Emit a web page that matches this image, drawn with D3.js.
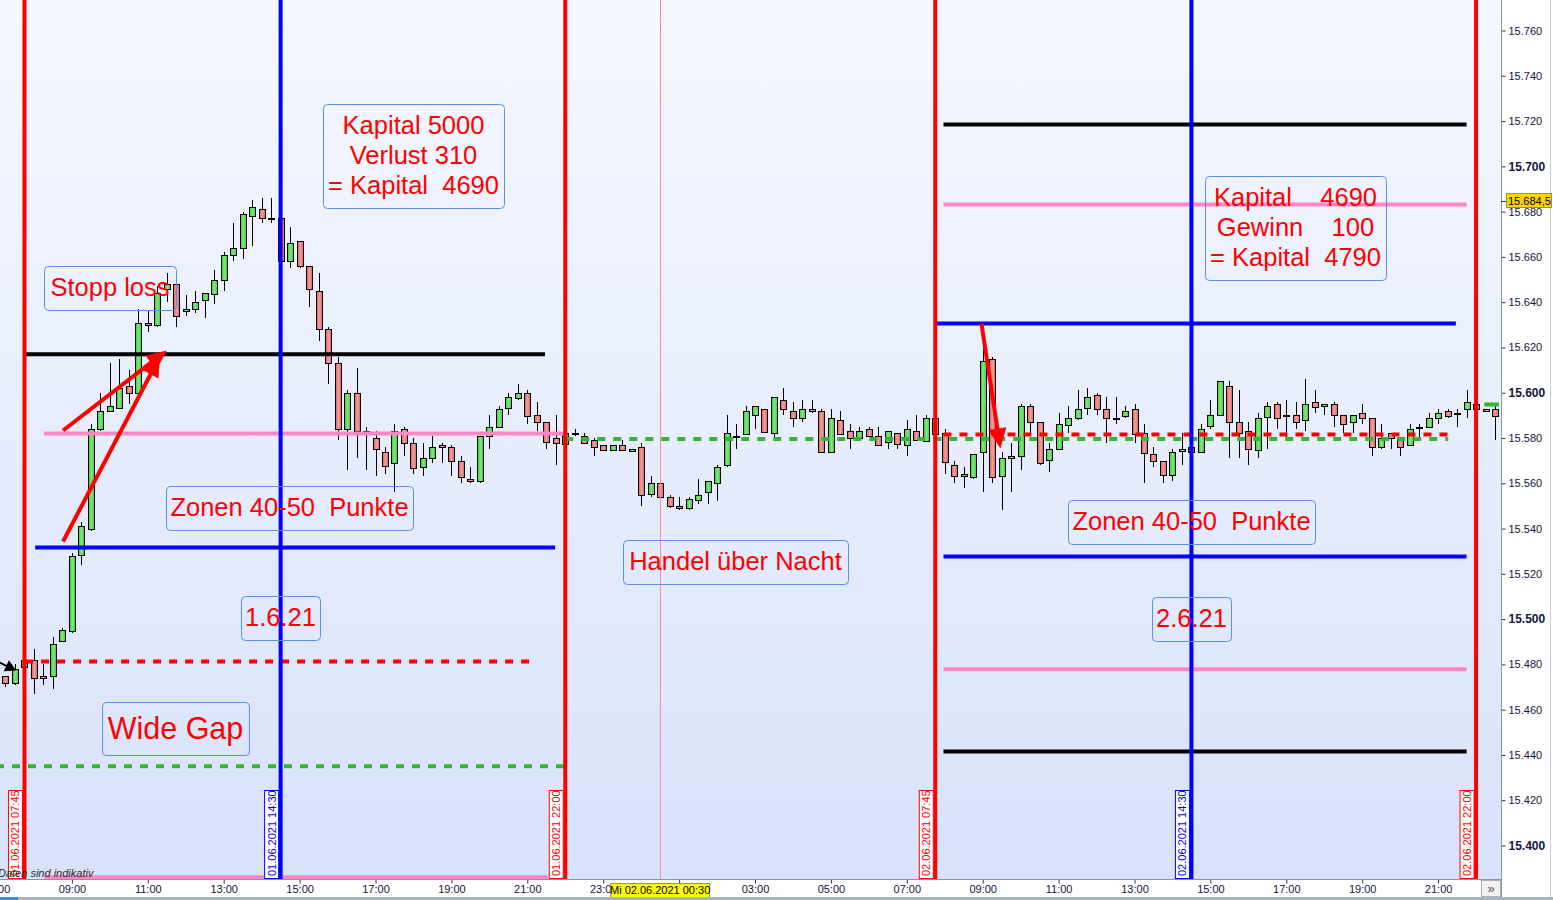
<!DOCTYPE html>
<html>
<head>
<meta charset="UTF-8">
<title>DAX 01.06.2021 - 02.06.2021</title>
<script src="https://d3js.org/d3.v7.min.js"></script>
<style>
  body { margin: 0; background: #fff; }
  svg text { font-family: Arial, "Liberation Sans", sans-serif; }
</style>
</head>
<body>
<svg id="chart" width="1553" height="900"></svg>
<script>
// ---- data (15 minute candles, first one 01.06.2021 07:15) ----
var firstBar = "2021-06-01T07:15";

var opens = [15475,15472,15479,15482,15475,15475,15490,15495,15528,15540,15584,15592,15593,15603,15600,15631,15630,15646,15648,15636,
  15637,15641,15644,15650,15661,15664,15678,15681,15677,15677,15658,15667,15656,15645,15628,15613,15584,15600,15583,15580,
  15574,15569,15584,15578,15567,15571,15577,15576,15570,15562,15561,15581,15585,15593,15598,15600,15590,15587,15580,15577,
  15582,15581,15579,15577,15575,15577,15574,15576,15555,15560,15554,15550,15549,15553,15556,15560,15568,15581,15582,15590,
  15593,15582,15597,15592,15589,15593,15592,15574,15588,15583,15580,15584,15581,15578,15582,15577,15583,15579,15589,15582,
  15568,15563,15563,15574,15615,15563,15571,15572,15594,15587,15570,15575,15586,15589,15593,15599,15593,15589,15590,15593,
  15582,15573,15570,15564,15574,15576,15574,15585,15590,15603,15587,15583,15575,15589,15595,15590,15590,15588,15596,15594,
  15595,15590,15587,15591,15589,15576,15582,15580,15577,15585,15585,15589,15592,15591,15593,15595,15593,15593];
var highs = [15475,15480,15483,15487,15480,15492,15496,15529,15543,15586,15600,15613,15615,15610,15637,15636,15647,15653,15651,15643,
  15645,15644,15654,15662,15675,15680,15685,15686,15686,15677,15673,15667,15656,15653,15629,15616,15601,15611,15585,15583,
  15576,15586,15585,15580,15578,15581,15578,15577,15572,15567,15581,15590,15594,15600,15604,15601,15596,15587,15590,15582,
  15584,15582,15580,15577,15577,15579,15575,15578,15563,15562,15555,15554,15554,15562,15561,15568,15590,15586,15594,15594,
  15593,15598,15602,15596,15597,15597,15593,15593,15592,15586,15585,15585,15585,15583,15582,15588,15590,15590,15589,15584,
  15570,15567,15573,15625,15616,15574,15578,15595,15595,15587,15578,15591,15594,15601,15602,15600,15598,15598,15594,15595,
  15586,15576,15570,15575,15582,15577,15586,15597,15605,15605,15601,15587,15591,15596,15596,15597,15596,15606,15601,15595,
  15596,15590,15590,15595,15589,15586,15582,15580,15586,15586,15591,15593,15593,15593,15601,15595,15593,15594];
var lows = [15470,15471,15478,15467,15471,15469,15490,15494,15524,15539,15583,15592,15593,15595,15600,15627,15629,15640,15629,15634,
  15635,15633,15639,15645,15658,15659,15665,15675,15675,15657,15655,15655,15638,15623,15604,15579,15566,15571,15566,15563,
  15564,15556,15572,15564,15563,15569,15569,15563,15560,15560,15560,15575,15585,15590,15597,15586,15583,15575,15568,15576,
  15581,15578,15572,15575,15575,15575,15574,15550,15554,15548,15549,15548,15548,15551,15551,15552,15567,15575,15582,15584,
  15583,15580,15590,15585,15587,15591,15574,15574,15582,15575,15580,15581,15577,15575,15575,15572,15579,15579,15582,15564,
  15560,15558,15562,15556,15560,15548,15556,15566,15582,15568,15565,15575,15582,15588,15590,15590,15578,15586,15589,15578,
  15560,15567,15560,15561,15568,15574,15574,15584,15590,15571,15571,15568,15571,15575,15584,15580,15584,15583,15591,15590,
  15585,15582,15582,15586,15572,15575,15575,15572,15577,15580,15585,15586,15589,15585,15589,15593,15592,15579];
var closes = [15472,15478,15482,15474,15474,15489,15495,15528,15541,15584,15592,15594,15602,15600,15631,15630,15644,15648,15634,15637,
  15640,15644,15650,15661,15664,15679,15682,15677,15677,15658,15666,15656,15646,15628,15613,15584,15600,15583,15582,15575,
  15568,15583,15578,15567,15571,15576,15576,15570,15563,15561,15581,15585,15593,15598,15600,15590,15587,15578,15578,15582,
  15582,15578,15576,15575,15577,15575,15575,15555,15560,15554,15550,15549,15553,15555,15561,15567,15582,15581,15592,15594,
  15583,15598,15593,15589,15593,15592,15574,15589,15582,15580,15583,15581,15577,15583,15577,15584,15579,15589,15582,15569,
  15563,15564,15573,15614,15563,15571,15572,15594,15587,15569,15575,15586,15589,15593,15598,15593,15589,15589,15592,15582,
  15573,15570,15564,15574,15575,15574,15584,15590,15605,15587,15582,15575,15589,15594,15589,15590,15587,15595,15594,15595,
  15590,15586,15590,15589,15576,15580,15580,15576,15584,15585,15589,15591,15590,15591,15596,15593,15592,15590];

var yTicks = [15400,15420,15440,15460,15480,15500,15520,15540,15560,15580,15600,15620,15640,15660,15680,15700,15720,15740,15760];
var xTicks = ["2021-06-01T07:00","2021-06-01T09:00","2021-06-01T11:00","2021-06-01T13:00","2021-06-01T15:00",
  "2021-06-01T17:00","2021-06-01T19:00","2021-06-01T21:00","2021-06-01T23:00","2021-06-02T01:00",
  "2021-06-02T03:00","2021-06-02T05:00","2021-06-02T07:00","2021-06-02T09:00","2021-06-02T11:00",
  "2021-06-02T13:00","2021-06-02T15:00","2021-06-02T17:00","2021-06-02T19:00","2021-06-02T21:00"];

var lastPrice = 15684.5;

// horizontal zone lines
var levelPrices = [15617, 15582, 15531.6, 15481.3, 15435, 15386,
  15718.5, 15683.1, 15630.6, 15579.6, 15581.5, 15527.7, 15477.8, 15441.5];
var levelFrom = ["2021-06-01T07:46","2021-06-01T08:16","2021-06-01T08:02","2021-06-01T07:46","2021-06-01T07:00","2021-06-01T08:16",
  "2021-06-02T07:58","2021-06-02T07:58","2021-06-02T07:45","2021-06-01T22:00","2021-06-02T07:58","2021-06-02T07:58","2021-06-02T07:58","2021-06-02T07:58"];
var levelTo = ["2021-06-01T21:28","2021-06-01T21:58","2021-06-01T21:44","2021-06-01T21:03","2021-06-01T21:58","2021-06-01T21:32",
  "2021-06-02T21:45","2021-06-02T21:45","2021-06-02T21:28","2021-06-02T21:16","2021-06-02T21:16","2021-06-02T21:45","2021-06-02T21:45","2021-06-02T21:45"];
var levelKind = ["black","pink","blue","reddash","greendash","pink",
  "black","pink","blue","greendash","reddash","blue","pink","black"];

// session markers
var markerTimes = ["2021-06-01T07:45","2021-06-01T14:30","2021-06-01T22:00","2021-06-02T07:45","2021-06-02T14:30","2021-06-02T22:00"];
var markerKind = ["red","blue","red","red","blue","red"];
var nightTime = "2021-06-02T00:30";

// arrows: [fromTime, fromPrice, toTime, toPrice]
var arrows = [
  ["2021-06-01T08:46", 15583.3, "2021-06-01T11:30", 15618.7],
  ["2021-06-01T08:46", 15534.3, "2021-06-01T11:19", 15616.0],
  ["2021-06-02T08:58", 15630.6, "2021-06-02T09:28", 15575.4]
];
var cursorArrow = ["2021-06-01T07:02", 15481.3, "2021-06-01T07:32", 15477.3];

// annotation boxes: text lines + box [x, y, w, h] + first baseline
var notes = [
  {lines: ["Kapital 5000", "Verlust 310", "= Kapital  4690"], box: [323, 104, 181, 104], base: 134},
  {lines: ["Stopp loss"], box: [44, 266, 132, 44], base: 296},
  {lines: ["Zonen 40-50  Punkte"], box: [166, 486, 247, 44], base: 516},
  {lines: ["1.6.21"], box: [241, 596, 79, 44], base: 626},
  {lines: ["Wide Gap"], box: [102, 702, 147, 53], base: 739, big: true},
  {lines: ["Handel über Nacht"], box: [623, 540, 225, 44], base: 570},
  {lines: ["Kapital    4690", "Gewinn    100", "= Kapital  4790"], box: [1205, 176, 181, 104], base: 206},
  {lines: ["Zonen 40-50  Punkte"], box: [1068, 500, 247, 44], base: 530},
  {lines: ["2.6.21"], box: [1152, 597, 79, 44], base: 627}
];

// ---- setup ----
var svg = d3.select("#chart");
var plotR = 1501, plotB = 879;
var parse = d3.timeParse("%Y-%m-%dT%H:%M");

var x = d3.scaleTime()
  .domain([parse("2021-06-01T07:00"), parse("2021-06-02T23:00")])
  .range([-4, 1514]);
var y = d3.scaleLinear()
  .domain([15400, 15760])
  .range([845.5, 30.5]);

var de = d3.formatLocale({decimal: ",", thousands: ".", grouping: [3], currency: ["", "€"]});

var defs = svg.append("defs");
var bg = defs.append("linearGradient").attr("id", "bg").attr("x1", 0).attr("y1", 0).attr("x2", 0).attr("y2", 1);
bg.append("stop").attr("offset", "0%").attr("stop-color", "#f6f8ff");
bg.append("stop").attr("offset", "100%").attr("stop-color", "#d8e2fb");

function candleGrad(id, edge, mid) {
  var g = defs.append("linearGradient").attr("id", id).attr("x1", 0).attr("y1", 0).attr("x2", 1).attr("y2", 0);
  g.append("stop").attr("offset", "0%").attr("stop-color", edge);
  g.append("stop").attr("offset", "50%").attr("stop-color", mid);
  g.append("stop").attr("offset", "100%").attr("stop-color", edge);
}
candleGrad("up", "#3fc83f", "#7ce87c");
candleGrad("down", "#dc6464", "#f29c9c");

defs.append("clipPath").attr("id", "plot")
  .append("rect").attr("x", 0).attr("y", 0).attr("width", plotR).attr("height", plotB);

svg.append("rect").attr("width", 1553).attr("height", 900).attr("fill", "#fff");
svg.append("rect").attr("width", plotR).attr("height", plotB).attr("fill", "url(#bg)");

var plot = svg.append("g").attr("clip-path", "url(#plot)");

// ---- candles ----
var t0 = parse(firstBar);
var bars = opens.map(function(o, i) {
  return {t: d3.timeMinute.offset(t0, 15 * i), o: o, h: highs[i], l: lows[i], c: closes[i]};
});

var cg = plot.append("g").attr("shape-rendering", "crispEdges");
cg.selectAll("line.wick")
  .data(bars)
  .enter().append("line")
    .attr("class", "wick")
    .attr("x1", function(d) { return Math.round(x(d.t)) + 0.5; })
    .attr("x2", function(d) { return Math.round(x(d.t)) + 0.5; })
    .attr("y1", function(d) { return y(d.h); })
    .attr("y2", function(d) { return y(d.l); })
    .attr("stroke", "#000")
    .attr("stroke-width", 1);

cg.selectAll("rect.body")
  .data(bars)
  .enter().append("rect")
    .attr("class", "body")
    .attr("x", function(d) { return Math.round(x(d.t)) - 2.5; })
    .attr("width", 6)
    .attr("y", function(d) { return Math.round(y(Math.max(d.o, d.c))) + 0.5; })
    .attr("height", function(d) { return Math.max(1, Math.round(Math.abs(y(d.o) - y(d.c)))); })
    .attr("fill", function(d) { return d.c >= d.o ? "url(#up)" : "url(#down)"; })
    .attr("stroke", "#000")
    .attr("stroke-width", 1);

// ---- zone lines ----
var kindStyle = {
  black: {c: "#000", w: 4, dash: null},
  pink: {c: "#ff86c6", w: 4, dash: null},
  blue: {c: "#0000ff", w: 4, dash: null},
  reddash: {c: "#ff0000", w: 4, dash: "8,8"},
  greendash: {c: "#36b436", w: 4, dash: "8,8"}
};
var order = ["greendash", "pink", "black", "blue", "reddash"];
var levels = levelPrices.map(function(p, i) {
  return {p: p, a: parse(levelFrom[i]), b: parse(levelTo[i]), k: levelKind[i]};
}).sort(function(a, b) { return order.indexOf(a.k) - order.indexOf(b.k); });

plot.selectAll("line.level")
  .data(levels)
  .enter().append("line")
    .attr("class", "level")
    .attr("x1", function(d) { return x(d.a); })
    .attr("x2", function(d) { return x(d.b); })
    .attr("y1", function(d) { return y(d.p); })
    .attr("y2", function(d) { return y(d.p); })
    .attr("stroke", function(d) { return kindStyle[d.k].c; })
    .attr("stroke-width", function(d) { return kindStyle[d.k].w; })
    .attr("stroke-dasharray", function(d) { return kindStyle[d.k].dash; });

// small green marker at the right end
plot.append("rect")
  .attr("x", x(parse("2021-06-02T22:13")))
  .attr("width", x(parse("2021-06-02T22:36")) - x(parse("2021-06-02T22:13")))
  .attr("y", y(15595.7))
  .attr("height", y(15593.9) - y(15595.7))
  .attr("fill", "#36b436");

// ---- vertical session lines ----
var nx = x(parse(nightTime));
svg.append("line")
  .attr("x1", Math.round(nx) + 0.5).attr("x2", Math.round(nx) + 0.5)
  .attr("y1", 0).attr("y2", plotB + 4)
  .attr("stroke", "#ff8c8c").attr("stroke-width", 1);

var markers = markerTimes.map(function(t, i) { return {t: parse(t), k: markerKind[i]}; });
var mcol = {red: "#ff0000", blue: "#0000ff"};
svg.selectAll("line.marker")
  .data(markers)
  .enter().append("line")
    .attr("class", "marker")
    .attr("x1", function(d) { return x(d.t); })
    .attr("x2", function(d) { return x(d.t); })
    .attr("y1", 0).attr("y2", plotB)
    .attr("stroke", function(d) { return mcol[d.k]; })
    .attr("stroke-width", 4);

// ---- arrows ----
function drawArrow(a, color, width, hl, hw) {
  var x1 = x(parse(a[0])), y1 = y(a[1]), x2 = x(parse(a[2])), y2 = y(a[3]);
  var dx = x2 - x1, dy = y2 - y1, len = Math.sqrt(dx * dx + dy * dy);
  var ux = dx / len, uy = dy / len;
  var bx = x2 - ux * hl, by = y2 - uy * hl;
  svg.append("line")
    .attr("x1", x1).attr("y1", y1).attr("x2", bx + ux * 2).attr("y2", by + uy * 2)
    .attr("stroke", color).attr("stroke-width", width);
  svg.append("path")
    .attr("d", "M" + x2 + "," + y2 +
      "L" + (bx - uy * hw) + "," + (by + ux * hw) +
      "L" + (bx + uy * hw) + "," + (by - ux * hw) + "Z")
    .attr("fill", color);
}
arrows.forEach(function(a) { drawArrow(a, "#ff0000", 4, 20, 9); });
drawArrow(cursorArrow, "#000", 2, 11, 6);

// ---- annotation boxes ----
notes.forEach(function(n) {
  var b = n.box;
  svg.append("rect")
    .attr("x", b[0] + 0.5).attr("y", b[1] + 0.5)
    .attr("width", b[2]).attr("height", b[3])
    .attr("rx", 4)
    .attr("fill", "none")
    .attr("stroke", "#5a8ee8")
    .attr("stroke-width", 1);
  n.lines.forEach(function(s, j) {
    svg.append("text")
      .attr("x", b[0] + b[2] / 2)
      .attr("y", n.base + j * 30)
      .attr("text-anchor", "middle")
      .style("white-space", "pre")
      .style("font-size", n.big ? "30.5px" : "25.5px")
      .attr("fill", "#ff0000")
      .text(s);
  });
});

// ---- marker labels ----
var fmtStamp = d3.timeFormat("%d.%m.%Y %H:%M");
var lab = svg.selectAll("g.mlabel")
  .data(markers)
  .enter().append("g")
    .attr("class", "mlabel")
    .attr("transform", function(d) { return "translate(" + (x(d.t) - 9) + "," + plotB + ") rotate(-90)"; });
lab.append("rect")
  .attr("x", 0.5).attr("y", -7)
  .attr("width", 88).attr("height", 14)
  .attr("fill", "#fff")
  .attr("stroke", function(d) { return mcol[d.k]; });
lab.append("text")
  .attr("x", 3).attr("y", 0).attr("dy", "0.36em")
  .style("font-size", "11px")
  .attr("fill", function(d) { return mcol[d.k]; })
  .text(function(d) { return fmtStamp(d.t); });

svg.append("text")
  .attr("x", -2).attr("y", 877)
  .style("font-size", "11px")
  .style("font-style", "italic")
  .attr("fill", "#2a2a2a")
  .text("Daten sind indikativ");

// ---- right price axis ----
svg.append("rect").attr("x", plotR).attr("y", 0).attr("width", 1553 - plotR).attr("height", 900).attr("fill", "#fff");
var yAxis = d3.axisRight(y)
  .tickValues(yTicks)
  .tickFormat(de.format(",.0f"))
  .tickSize(4)
  .tickPadding(3);
var ya = svg.append("g").attr("transform", "translate(" + (plotR + 0.5) + ",0)").call(yAxis);
ya.select(".domain").remove();
ya.selectAll(".tick line").attr("stroke", "#333");
ya.selectAll(".tick text")
  .attr("fill", "#14143a")
  .style("font-family", "Arial, 'Liberation Sans', sans-serif")
  .style("font-size", function(d) { return d % 100 === 0 ? "12px" : "11px"; })
  .style("font-weight", function(d) { return d % 100 === 0 ? "bold" : "normal"; });
svg.append("line")
  .attr("x1", plotR + 0.5).attr("x2", plotR + 0.5).attr("y1", 0).attr("y2", 897)
  .attr("stroke", "#8795a8");
svg.append("line")
  .attr("x1", 1550.5).attr("x2", 1550.5).attr("y1", 0).attr("y2", 897)
  .attr("stroke", "#c8d0da");

// last price label
var ly = y(lastPrice);
svg.append("line").attr("x1", plotR).attr("x2", plotR + 6).attr("y1", ly).attr("y2", ly).attr("stroke", "#333");
svg.append("rect")
  .attr("x", 1506.5).attr("y", Math.round(ly) - 7.5)
  .attr("width", 45).attr("height", 14)
  .attr("fill", "#ffd200").attr("stroke", "#8a8a8a");
svg.append("text")
  .attr("x", 1508).attr("y", Math.round(ly)).attr("dy", "0.36em")
  .style("font-size", "11px").attr("fill", "#000")
  .text(de.format(",.1f")(lastPrice));

// ---- bottom time axis ----
svg.append("rect").attr("x", 0).attr("y", plotB).attr("width", plotR).attr("height", 18).attr("fill", "#fff");
var xAxis = d3.axisBottom(x)
  .tickValues(xTicks.map(parse))
  .tickFormat(d3.timeFormat("%H:%M"))
  .tickSize(4)
  .tickPadding(2);
var xa = svg.append("g").attr("transform", "translate(0," + (plotB + 0.5) + ")").call(xAxis);
xa.select(".domain").remove();
xa.selectAll(".tick line").attr("stroke", "#333");
xa.selectAll(".tick text")
  .attr("fill", "#14143a")
  .style("font-family", "Arial, 'Liberation Sans', sans-serif")
  .style("font-size", "11px");
svg.append("line")
  .attr("x1", 0).attr("x2", plotR).attr("y1", plotB + 0.5).attr("y2", plotB + 0.5)
  .attr("stroke", "#8795a8");

// night cursor label
svg.append("rect")
  .attr("x", nx - 49.5).attr("y", 883.5)
  .attr("width", 99).attr("height", 14)
  .attr("fill", "#ffff00").attr("stroke", "#8a8a8a");
svg.append("text")
  .attr("x", nx).attr("y", 890.5).attr("dy", "0.36em")
  .attr("text-anchor", "middle")
  .style("font-size", "11px").attr("fill", "#000")
  .text("Mi " + d3.timeFormat("%d.%m.%Y %H:%M")(parse(nightTime)));

// scroll button and bottom bar
svg.append("rect").attr("x", 1481.5).attr("y", 880.5).attr("width", 19).attr("height", 16)
  .attr("fill", "#f2f2f2").attr("stroke", "#b0b0b0");
svg.append("text").attr("x", 1491).attr("y", 893).attr("text-anchor", "middle")
  .style("font-size", "13px").attr("fill", "#555").text("»");
svg.append("rect").attr("x", 0).attr("y", 897).attr("width", 1553).attr("height", 3).attr("fill", "#a4b4c4");
svg.append("rect").attr("x", 0).attr("y", 897).attr("width", 18).attr("height", 3).attr("fill", "#3c8ce0");
</script>
</body>
</html>
